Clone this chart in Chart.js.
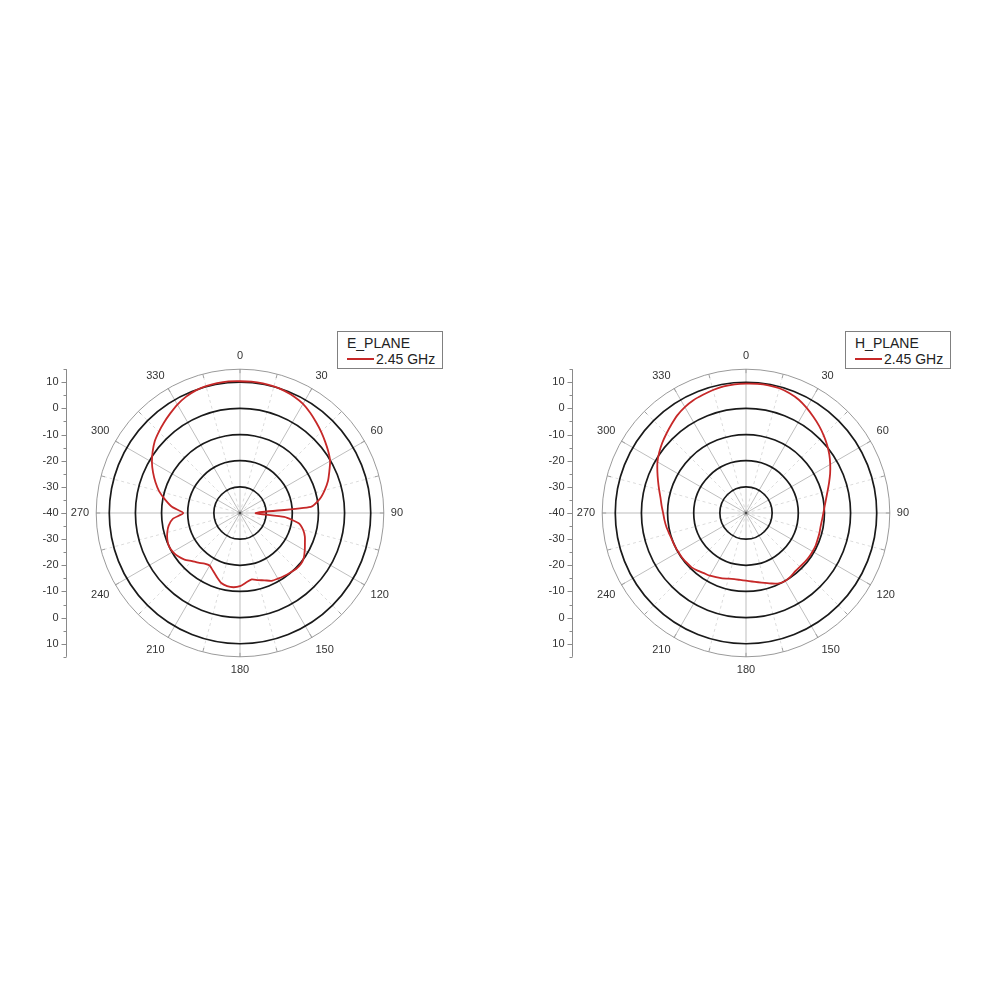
<!DOCTYPE html>
<html lang="en">
<head>
<meta charset="UTF-8">
<title>E_PLANE / H_PLANE radiation pattern, 2.45 GHz</title>
<style>
    body {
        margin: 0;
        background: #fff;
        font-family: "Liberation Sans", Arial, sans-serif;
    }
    #page {
        position: relative;
        width: 1000px;
        height: 1000px;
    }
    .plot {
        position: absolute;
        top: 340px;
        width: 420px;
        height: 346px;
    }
    .legend {
        position: absolute;
        top: 331px;
        width: 106px;
        height: 38px;
        box-sizing: border-box;
        border: 1px solid #808080;
        background: #fff;
        padding: 3px 0 0 9px;
        font-size: 14px;
        line-height: 16px;
        color: #222;
    }
    .legend .row {
        display: flex;
        align-items: center;
    }
    .legend .swatch {
        width: 27px;
        height: 2px;
        background: #c62828;
        margin-right: 2px;
    }
</style>
<script src="https://cdn.jsdelivr.net/npm/chart.js"></script>
</head>
<body>
<div id="page">
    <div class="plot" style="left:30px"><canvas id="ePlane"></canvas></div>
    <div class="plot" style="left:536px"><canvas id="hPlane"></canvas></div>
    <div class="legend" id="legendE" style="left:337px"></div>
    <div class="legend" id="legendH" style="left:845px"></div>
</div>

<script>
// angles in degrees (0 = top, clockwise)
const angles = [
    0, 5, 10, 15, 20, 25, 30, 35, 40, 45, 50, 55,
    60, 65, 70, 75, 80, 85, 90, 95, 100, 105, 110, 115,
    120, 125, 130, 135, 140, 145, 150, 155, 160, 165, 170, 175,
    180, 185, 190, 195, 200, 205, 210, 215, 220, 225, 230, 235,
    240, 245, 250, 255, 260, 265, 270, 275, 280, 285, 290, 295,
    300, 305, 310, 315, 320, 325, 330, 335, 340, 345, 350, 355
];

// gain in dB
const ePlane = [
    10.4, 10.4, 10.3, 10.1, 9.7, 9.1, 8.2, 6.8, 5.3, 3.9, 2.5, 1.2,
    -0.2, -2.3, -4.2, -6.5, -9.0, -12.8, -34.0, -23.0, -17.2, -15.0, -13.6, -12.6,
    -11.4, -10.2, -9.6, -9.7, -10.2, -10.6, -11.0, -11.4, -12.6, -13.4, -14.2, -13.3,
    -12.0, -11.5, -11.6, -12.3, -14.0, -15.6, -16.8, -16.4, -15.2, -14.0, -12.3, -11.1,
    -10.3, -10.0, -10.4, -11.2, -12.3, -14.2, -18.3, -14.0, -11.0, -8.0, -5.6, -3.3,
    -1.1, 0.8, 2.6, 3.9, 5.2, 6.5, 7.9, 9.0, 9.8, 10.2, 10.4, 10.5
];

const hPlane = [
    9.5, 9.6, 9.6, 9.4, 8.7, 7.8, 6.4, 4.9, 3.5, 2.0, 0.5, -1.1,
    -2.8, -4.5, -6.2, -7.7, -8.9, -9.8, -10.4, -10.8, -11.0, -10.9, -10.8, -10.6,
    -10.6, -10.6, -10.7, -10.9, -10.8, -10.3, -10.0, -10.3, -11.3, -12.3, -13.1, -13.7,
    -14.1, -14.3, -14.3, -14.0, -13.4, -12.9, -12.3, -11.9, -11.2, -10.6, -10.4, -10.2,
    -10.1, -10.0, -9.9, -9.6, -9.1, -8.7, -8.3, -7.6, -6.8, -5.6, -4.2, -2.6,
    -0.9, 0.5, 1.8, 3.0, 4.3, 5.7, 6.8, 7.6, 8.1, 8.7, 9.2, 9.4
];

const seriesLabel = '2.45 GHz';
const planeTitles = ['E_PLANE', 'H_PLANE'];

// radial axis: centre is -40 dB, outer edge 15 dB
const rMin = -40;
const rMax = 15;
const ringValues = [-30, -20, -10, 0, 10];
// side scale ticks (mirrored above and below the centre)
const sideLabels = [-40, -30, -20, -10, 0, 10];
const sideMinor = [-35, -25, -15, -5, 5, 15];

const red = '#c62828';
const fontFamily = '"Liberation Sans", Arial, sans-serif';

// vertical dB scale left of each polar plot + small ticks on the rim
const sideAxis = {
    id: 'sideAxis',
    afterDraw(chart) {
        const s = chart.scales.r;
        const ctx = chart.ctx;
        const x = Math.round(s.xCenter - 174) + 0.5;
        const ext = s.getDistanceFromCenterForValue(rMax);
        ctx.save();
        ctx.strokeStyle = '#8a8a8a';
        ctx.lineWidth = 1;
        ctx.beginPath();
        ctx.moveTo(x, s.yCenter - ext);
        ctx.lineTo(x, s.yCenter + ext);
        ctx.stroke();

        const tick = (v, len) => {
            const d = s.getDistanceFromCenterForValue(v);
            [-1, 1].forEach(sg => {
                const y = Math.round(s.yCenter + sg * d) + 0.5;
                ctx.beginPath();
                ctx.moveTo(x - len, y);
                ctx.lineTo(x, y);
                ctx.stroke();
            });
        };
        sideLabels.forEach(v => tick(v, 5));
        sideMinor.forEach(v => tick(v, 3));

        // rim ticks pointing inwards
        ctx.strokeStyle = '#a0a0a0';
        angles.forEach((a, i) => {
            if (a % 15 !== 0) return;
            const p1 = s.getPointPosition(i, ext);
            const p2 = s.getPointPosition(i, ext - 4);
            ctx.beginPath();
            ctx.moveTo(p1.x, p1.y);
            ctx.lineTo(p2.x, p2.y);
            ctx.stroke();
        });

        ctx.fillStyle = '#333';
        ctx.font = '11px ' + fontFamily;
        ctx.textAlign = 'right';
        ctx.textBaseline = 'middle';
        sideLabels.forEach(v => {
            const d = s.getDistanceFromCenterForValue(v);
            ctx.fillText(String(v), x - 8, s.yCenter - d);
            if (d > 0) ctx.fillText(String(v), x - 8, s.yCenter + d);
        });
        ctx.restore();
    }
};

function makePolar(canvasId, values) {
    return new Chart(document.getElementById(canvasId), {
        type: 'radar',
        data: {
            labels: angles,
            datasets: [{
                label: seriesLabel,
                data: values,
                borderColor: red,
                borderWidth: 1.8,
                pointRadius: 0,
                fill: false,
                tension: 0.2
            }]
        },
        options: {
            responsive: true,
            maintainAspectRatio: false,
            animation: false,
            layout: { padding: { top: 9, bottom: 9 } },
            plugins: {
                legend: { display: false },
                tooltip: { enabled: false }
            },
            scales: {
                r: {
                    min: rMin,
                    max: rMax,
                    ticks: { display: false, stepSize: 5 },
                    grid: {
                        circular: true,
                        color: c => c.tick.value === rMax ? '#9a9a9a' : '#1a1a1a',
                        lineWidth: c => {
                            const v = c.tick.value;
                            if (v === rMax) return 1;
                            return ringValues.includes(v) ? 1.7 : 0;
                        }
                    },
                    // translucent so the black rings stay solid where spokes cross them
                    angleLines: {
                        color: c => angles[c.index] % 30 === 0 ? 'rgba(0,0,0,0.26)' : 'rgba(0,0,0,0.14)',
                        lineWidth: c => angles[c.index] % 15 === 0 ? 1 : 0,
                        borderDash: c => angles[c.index] % 30 === 0 ? [] : [3, 3]
                    },
                    pointLabels: {
                        padding: 7,
                        color: '#333',
                        font: { size: 11, family: fontFamily },
                        callback: (label) => label % 30 === 0 ? String(label) : ''
                    }
                }
            }
        },
        plugins: [sideAxis]
    });
}

function makeLegend(divId, title) {
    const div = document.getElementById(divId);
    div.innerHTML = '<div>' + title + '</div>' +
        '<div class="row"><span class="swatch"></span><span>' + seriesLabel + '</span></div>';
}

makePolar('ePlane', ePlane);
makePolar('hPlane', hPlane);
makeLegend('legendE', planeTitles[0]);
makeLegend('legendH', planeTitles[1]);
</script>
</body>
</html>
